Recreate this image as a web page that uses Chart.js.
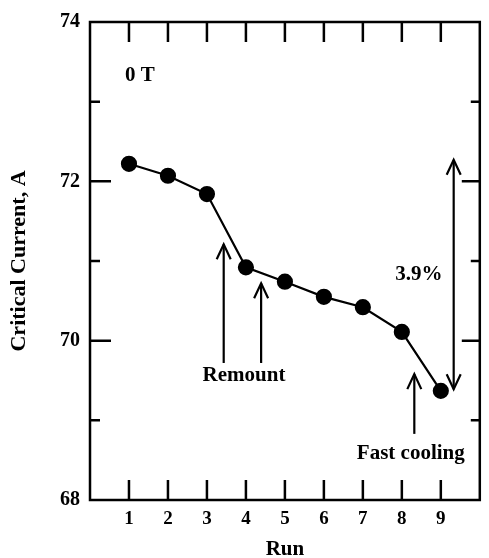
<!DOCTYPE html>
<html>
<head>
<meta charset="utf-8">
<script src="https://cdn.jsdelivr.net/npm/chart.js@4"></script>
<style>
  html, body { margin: 0; padding: 0; background: #fff; }
  #wrap { width: 489px; height: 558px; }
</style>
</head>
<body>
<div id="wrap"><canvas id="ic"></canvas></div>
<script>
// Data
const runs = [1, 2, 3, 4, 5, 6, 7, 8, 9];
const current = [72.22, 72.07, 71.84, 70.92, 70.74, 70.55, 70.42, 70.11, 69.37];
const yLabels = [68, 70, 72, 74];

// Annotations (data coords)
const notes = [
    { text: '0 T', x: 1.28, y: 73.33 },
    { text: 'Remount', x: 3.95, y: 69.56 },
    { text: '3.9%', x: 8.44, y: 70.83 },
    { text: 'Fast cooling', x: 8.23, y: 68.58 }
];
const arrows = [
    { x: 3.43, from: 69.72, to: 71.21, both: false },
    { x: 4.39, from: 69.72, to: 70.72, both: false },
    { x: 8.32, from: 68.83, to: 69.58, both: false },
    { x: 9.33, from: 69.39, to: 72.27, both: true }
];

const serif = '"Liberation Serif", "Times New Roman", serif';

function head(ctx, x, y, dir) {
    ctx.beginPath();
    ctx.moveTo(x - 7, y + dir * 15);
    ctx.lineTo(x, y);
    ctx.lineTo(x + 7, y + dir * 15);
    ctx.stroke();
}

const decor = {
    id: 'decor',
    afterDraw(chart) {
        const ctx = chart.ctx;
        const xs = chart.scales.x, ys = chart.scales.y;
        const a = chart.chartArea;
        ctx.save();
        ctx.strokeStyle = '#000';
        ctx.lineWidth = 2.5;
        ctx.strokeRect(a.left, a.top, a.right - a.left, a.bottom - a.top);

        // inward ticks
        ctx.lineWidth = 2.5;
        runs.forEach(r => {
            const px = xs.getPixelForValue(r);
            ctx.beginPath();
            ctx.moveTo(px, a.bottom); ctx.lineTo(px, a.bottom - 20);
            ctx.moveTo(px, a.top); ctx.lineTo(px, a.top + 20);
            ctx.stroke();
        });
        for (let v = 69; v <= 73; v++) {
            const py = ys.getPixelForValue(v);
            const major = v % 2 === 0;
            ctx.beginPath();
            ctx.moveTo(a.left, py); ctx.lineTo(a.left + (major ? 21 : 10), py);
            ctx.moveTo(a.right, py); ctx.lineTo(a.right - (major ? 18 : 9), py);
            ctx.stroke();
        }

        // arrows
        ctx.lineWidth = 2.2;
        arrows.forEach(ar => {
            const px = xs.getPixelForValue(ar.x);
            const y1 = ys.getPixelForValue(ar.from);
            const y2 = ys.getPixelForValue(ar.to);
            ctx.beginPath();
            ctx.moveTo(px, y1); ctx.lineTo(px, y2);
            ctx.stroke();
            head(ctx, px, y2, 1);
            if (ar.both) head(ctx, px, y1, -1);
        });

        // labels
        ctx.fillStyle = '#000';
        ctx.font = 'bold 21px ' + serif;
        ctx.textAlign = 'center';
        ctx.textBaseline = 'middle';
        notes.forEach(n => {
            ctx.fillText(n.text, xs.getPixelForValue(n.x), ys.getPixelForValue(n.y));
        });
        ctx.restore();
    }
};

new Chart(document.getElementById('ic'), {
    type: 'line',
    data: {
        datasets: [{
            data: runs.map((r, i) => ({ x: r, y: current[i] })),
            borderColor: '#000',
            backgroundColor: '#000',
            borderWidth: 2.2,
            pointRadius: 7,
            pointHoverRadius: 7,
            tension: 0
        }]
    },
    options: {
        responsive: true,
        maintainAspectRatio: false,
        animation: false,
        layout: { padding: { top: 20, right: 3, bottom: 0, left: 0 } },
        plugins: { legend: { display: false }, tooltip: { enabled: false } },
        scales: {
            x: {
                type: 'linear',
                min: 0, max: 10,
                afterFit: s => { s.height = 58; },
                afterBuildTicks: s => { s.ticks = runs.map(v => ({ value: v })); },
                grid: { display: false, drawTicks: false },
                border: { display: false },
                ticks: {
                    color: '#000', padding: 8,
                    font: { family: serif, size: 19, weight: 'bold' }
                },
                title: {
                    display: true, text: 'Run', color: '#000',
                    padding: { top: -2, bottom: -2 },
                    font: { family: serif, size: 21, weight: 'bold', lineHeight: 1 }
                }
            },
            y: {
                min: 68, max: 74,
                afterFit: s => { s.width = 90; },
                afterBuildTicks: s => { s.ticks = yLabels.map(v => ({ value: v })); },
                grid: { display: false, drawTicks: false },
                border: { display: false },
                ticks: {
                    color: '#000', padding: 10,
                    font: { family: serif, size: 20, weight: 'bold' }
                },
                title: {
                    display: true, text: 'Critical Current, A', color: '#000',
                    padding: { top: 6, bottom: 0 },
                    font: { family: serif, size: 22, weight: 'bold' }
                }
            }
        }
    },
    plugins: [decor]
});
</script>
</body>
</html>
